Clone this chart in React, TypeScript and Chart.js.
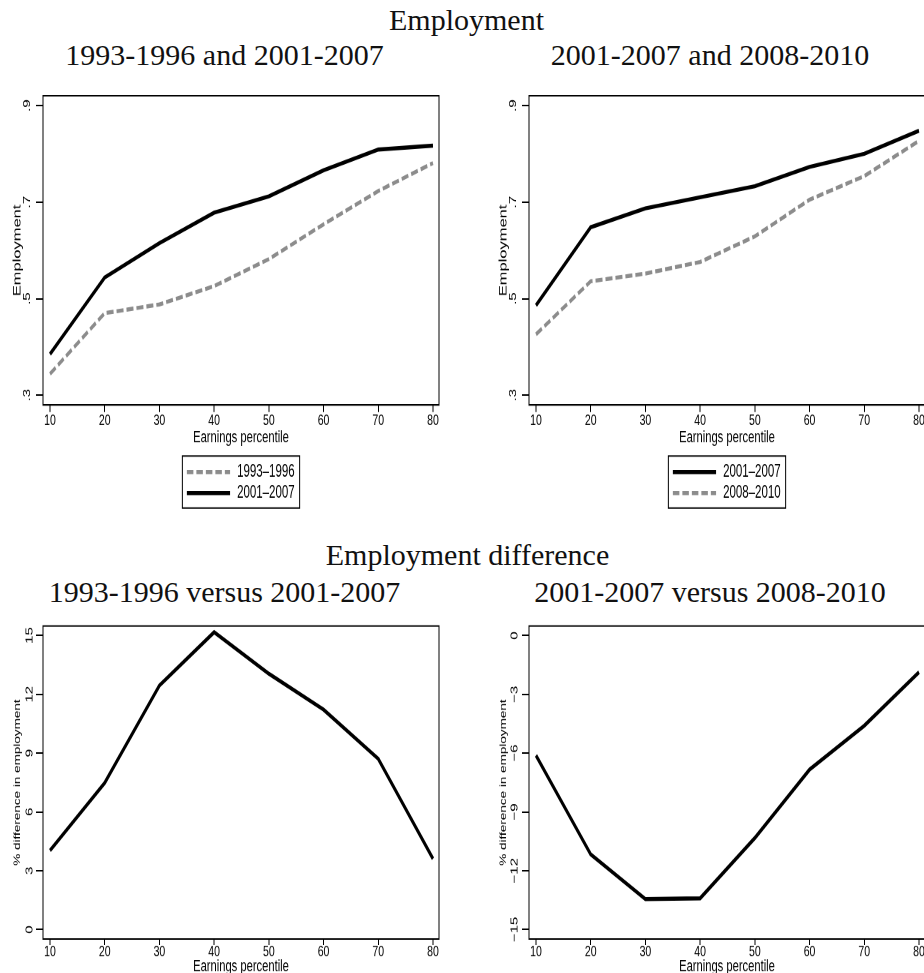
import React, { useEffect, useRef } from "react";
import { Chart, registerables } from "chart.js";

Chart.register(...registerables);

// values
const percentiles = [10, 20, 30, 40, 50, 60, 70, 80];
const employment9396 = [0.344, 0.47, 0.488, 0.526, 0.582, 0.654, 0.723, 0.781];
const employment0107a = [0.385, 0.544, 0.615, 0.678, 0.712, 0.766, 0.809, 0.817];
const employment0107b = [0.486, 0.648, 0.687, 0.71, 0.733, 0.773, 0.8, 0.848];
const employment0810 = [0.426, 0.536, 0.552, 0.576, 0.629, 0.705, 0.754, 0.827];
const diff9396vs0107 = [4.03, 7.48, 12.45, 15.17, 13.05, 11.22, 8.71, 3.61];
const diff0107vs0810 = [-6.12, -11.17, -13.45, -13.41, -10.33, -6.84, -4.6, -1.87];

const employmentTicks = [0.3, 0.5, 0.7, 0.9];
const employmentTickLabels = [".3", ".5", ".7", ".9"];
const diffTicksUp = [0, 3, 6, 9, 12, 15];
const diffTickLabelsUp = ["0", "3", "6", "9", "12", "15"];
const diffTicksDown = [-15, -12, -9, -6, -3, 0];
const diffTickLabelsDown = ["\u221215", "\u221212", "\u22129", "\u22126", "\u22123", "0"];

// the stata graphs are stretched vertically in the reference
const STRETCH = 1.5;
const SANS = '"Liberation Sans", Arial, sans-serif';
const SERIF = '"Liberation Serif", "Times New Roman", serif';

const LINE_W = 2.7;
const BLACK = "#000";
const GREY = "#8c8c8c";

type Series = { label: string; values: number[]; dashed: boolean };

// box around the plot region
const frame = {
  id: "frame",
  afterDraw(chart: any) {
    const { ctx, chartArea: a } = chart;
    ctx.save();
    ctx.strokeStyle = "#000";
    ctx.lineWidth = 1;
    ctx.strokeRect(a.left, a.top, a.right - a.left, a.bottom - a.top);
    ctx.restore();
  },
};

// stata style legend: one column, framed, under the axis title
const boxLegend = {
  id: "boxLegend",
  afterDraw(chart: any, _args: any, opts: any) {
    if (!opts || !opts.display) return;
    const { ctx, chartArea } = chart;
    const items = chart.data.datasets;
    ctx.save();
    ctx.font = `11.5px ${SANS}`;
    const textW = Math.max(...items.map((d: any) => ctx.measureText(d.label).width));
    const w = 54.7 + textW + 5;
    const h = 34.7;
    const left = (chartArea.left + chartArea.right) / 2 - w / 2;
    const top = chartArea.bottom + opts.offset;
    ctx.strokeStyle = "#000";
    ctx.lineWidth = 1;
    ctx.strokeRect(left, top, w, h);
    items.forEach((d: any, i: number) => {
      const y = top + 10.7 + i * 14;
      ctx.beginPath();
      ctx.setLineDash(d.borderDash && d.borderDash.length ? [6.5, 3] : []);
      ctx.strokeStyle = d.borderColor;
      ctx.lineWidth = d.borderWidth;
      ctx.moveTo(left + 4.5, y);
      ctx.lineTo(left + 47.7, y);
      ctx.stroke();
      ctx.setLineDash([]);
      ctx.fillStyle = "#000";
      ctx.textAlign = "left";
      ctx.textBaseline = "middle";
      ctx.fillText(d.label, left + 54.7, y);
    });
    ctx.restore();
  },
};

type PanelProps = {
  left: number;
  top: number;
  innerHeight: number;
  areaBottom: number;
  series: Series[];
  yMin: number;
  yMax: number;
  yTicks: number[];
  yTickLabels: string[];
  yTitle: string;
  yTitleSize: number;
  yTickPadding: number;
  xTickLength: number;
  xLabelCenter: number;
  xTitleCenter: number;
  legend: boolean;
};

function Panel(p: PanelProps) {
  const canvasRef = useRef<HTMLCanvasElement>(null);

  useEffect(() => {
    if (!canvasRef.current) return;
    const ctx = canvasRef.current.getContext("2d");
    if (!ctx) return;

    const width = 460;
    const areaTop = 11 / STRETCH;
    const xTitleLH = 13.4;
    const xHeight = p.xTitleCenter + xTitleLH / 2;
    const padBottom = p.innerHeight - p.areaBottom - xHeight;

    const chart = new Chart(ctx, {
      type: "line",
      data: {
        datasets: p.series.map((s) => ({
          label: s.label,
          data: percentiles.map((x, i) => ({ x, y: s.values[i] })),
          borderColor: s.dashed ? GREY : BLACK,
          borderDash: s.dashed ? [7, 3] : [],
          borderWidth: LINE_W,
          pointRadius: 0,
          tension: 0,
          fill: false,
        })),
      },
      options: {
        animation: false,
        responsive: true,
        maintainAspectRatio: false,
        devicePixelRatio: 2,
        events: [],
        layout: {
          autoPadding: false,
          padding: { left: 0, right: width - 439, top: areaTop, bottom: padBottom },
        },
        plugins: {
          legend: { display: false },
          tooltip: { enabled: false },
          boxLegend: { display: p.legend, offset: 51 / STRETCH },
        } as any,
        scales: {
          x: {
            type: "linear",
            min: 8.72,
            max: 81.1,
            afterBuildTicks: (scale: any) => {
              scale.ticks = percentiles.map((v) => ({ value: v }));
            },
            afterFit: (scale: any) => {
              scale.height = xHeight;
            },
            grid: {
              display: true,
              drawOnChartArea: false,
              drawTicks: true,
              tickLength: p.xTickLength,
              color: "#000",
              lineWidth: 1,
            },
            border: { display: true, color: "#000", width: 1 },
            ticks: {
              autoSkip: false,
              maxRotation: 0,
              padding: p.xLabelCenter - p.xTickLength - 5.25,
              color: "#000",
              font: { family: SANS, size: 10.5, lineHeight: 1 },
              callback: (v: any) => String(v),
            },
            title: {
              display: true,
              text: "Earnings percentile",
              color: "#000",
              padding: 0,
              font: { family: SANS, size: 11.2, lineHeight: 1.2 },
            },
          },
          y: {
            type: "linear",
            min: p.yMin,
            max: p.yMax,
            afterBuildTicks: (scale: any) => {
              scale.ticks = p.yTicks.map((v) => ({ value: v }));
            },
            afterFit: (scale: any) => {
              scale.width = 43;
            },
            grid: {
              display: true,
              drawOnChartArea: false,
              drawTicks: true,
              tickLength: 7,
              color: "#000",
              lineWidth: 1,
            },
            border: { display: true, color: "#000", width: 1 },
            ticks: {
              autoSkip: false,
              minRotation: 90,
              maxRotation: 90,
              crossAlign: "center",
              padding: p.yTickPadding,
              color: "#000",
              font: { family: SANS, size: 10 },
              callback: (_v: any, i: number) => p.yTickLabels[i],
            },
            title: {
              display: true,
              text: p.yTitle,
              color: "#000",
              padding: { top: 17.5 - (p.yTitleSize * 1.2) / 2, bottom: 0 },
              font: { family: SANS, size: p.yTitleSize, lineHeight: 1.2 },
            },
          },
        },
      },
      plugins: [frame, boxLegend],
    } as any);

    return () => {
      chart.destroy();
    };
  }, []);

  return (
    <div
      style={{
        position: "absolute",
        left: p.left,
        top: p.top,
        width: 460,
        height: p.innerHeight,
        transform: `scaleY(${STRETCH})`,
        transformOrigin: "top left",
      }}
    >
      <canvas ref={canvasRef}></canvas>
    </div>
  );
}

function Heading({ text, left, top, width }: { text: string; left: number; top: number; width: number }) {
  return (
    <div
      style={{
        position: "absolute",
        left,
        top,
        width,
        textAlign: "center",
        fontFamily: SERIF,
        fontSize: 30,
        lineHeight: "30px",
        whiteSpace: "nowrap",
        color: "#111",
      }}
    >
      {text}
    </div>
  );
}

const topRow = {
  top: 80,
  innerHeight: 300,
  areaBottom: 325 / STRETCH,
  xTickLength: 7 / STRETCH,
  xLabelCenter: 15.7 / STRETCH,
  xTitleCenter: 32.7 / STRETCH,
};

const bottomRow = {
  top: 615,
  innerHeight: 245,
  areaBottom: 324 / STRETCH,
  xTickLength: 6 / STRETCH,
  xLabelCenter: 12.7 / STRETCH,
  xTitleCenter: 27.7 / STRETCH,
};

export default function App() {
  return (
    <div
      style={{
        position: "absolute",
        left: 0,
        top: 0,
        width: 924,
        height: 973,
        overflow: "hidden",
        background: "#fff",
      }}
    >
      <Heading text="Employment" left={0} top={5} width={933} />
      <Heading text="1993-1996 and 2001-2007" left={0} top={40} width={449} />
      <Heading text="2001-2007 and 2008-2010" left={486} top={40} width={448} />
      <Heading text="Employment difference" left={0} top={540} width={935} />
      <Heading text="1993-1996 versus 2001-2007" left={0} top={576.6} width={449} />
      <Heading text="2001-2007 versus 2008-2010" left={486} top={576.6} width={448} />

      <Panel
        {...topRow}
        left={0}
        series={[
          { label: "1993\u20131996", values: employment9396, dashed: true },
          { label: "2001\u20132007", values: employment0107a, dashed: false },
        ]}
        yMin={0.2796}
        yMax={0.9204}
        yTicks={employmentTicks}
        yTickLabels={employmentTickLabels}
        yTitle="Employment"
        yTitleSize={11}
        yTickPadding={4.5}
        legend={true}
      />
      <Panel
        {...topRow}
        left={486}
        series={[
          { label: "2001\u20132007", values: employment0107b, dashed: false },
          { label: "2008\u20132010", values: employment0810, dashed: true },
        ]}
        yMin={0.2796}
        yMax={0.9204}
        yTicks={employmentTicks}
        yTickLabels={employmentTickLabels}
        yTitle="Employment"
        yTitleSize={11}
        yTickPadding={4.5}
        legend={true}
      />
      <Panel
        {...bottomRow}
        left={0}
        series={[{ label: "difference", values: diff9396vs0107, dashed: false }]}
        yMin={-0.485}
        yMax={15.485}
        yTicks={diffTicksUp}
        yTickLabels={diffTickLabelsUp}
        yTitle="% difference in employment"
        yTitleSize={9}
        yTickPadding={0.5}
        legend={false}
      />
      <Panel
        {...bottomRow}
        left={486}
        series={[{ label: "difference", values: diff0107vs0810, dashed: false }]}
        yMin={-15.485}
        yMax={0.485}
        yTicks={diffTicksDown}
        yTickLabels={diffTickLabelsDown}
        yTitle="% difference in employment"
        yTitleSize={9}
        yTickPadding={-1}
        legend={false}
      />
    </div>
  );
}
